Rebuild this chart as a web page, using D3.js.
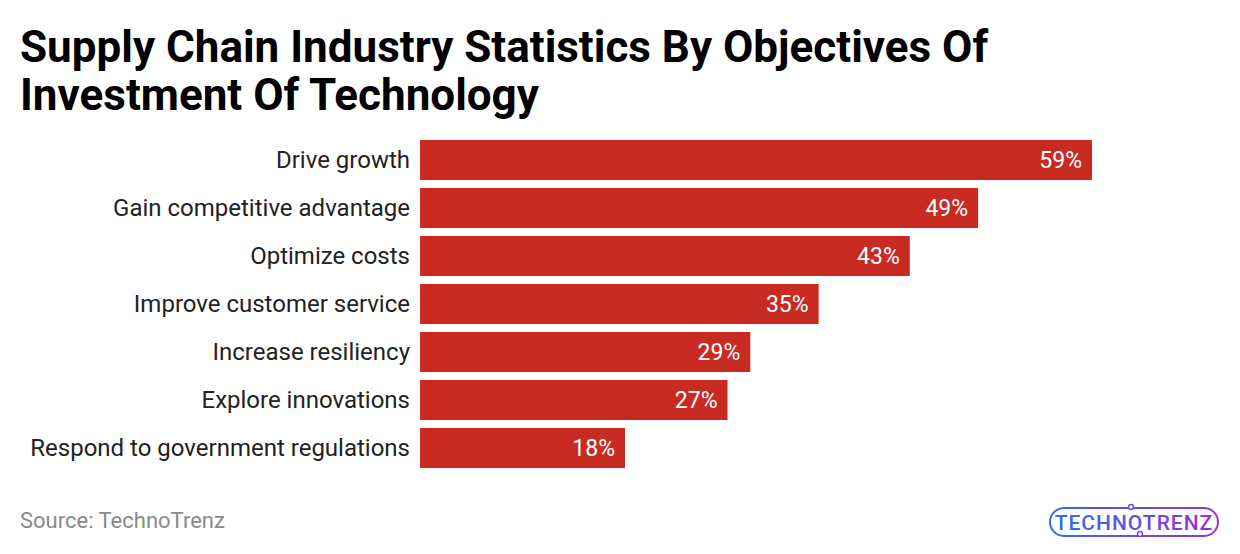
<!DOCTYPE html>
<html><head><meta charset="utf-8">
<script src="https://cdn.jsdelivr.net/npm/d3@7"></script>
<style>body{margin:0;background:#fff;}svg{display:block;font-family:Roboto,sans-serif;}</style>
</head><body><svg id="c" width="1240" height="554"></svg>
<script>
const categories = ["Drive growth","Gain competitive advantage","Optimize costs","Improve customer service","Increase resiliency","Explore innovations","Respond to government regulations"];
const values = [59,49,43,35,29,27,18];
const titleLines = ["Supply Chain Industry Statistics By Objectives Of","Investment Of Technology"];
const sourceText = "Source: TechnoTrenz";

const svg = d3.select("#c");
svg.append("rect").attr("width",1240).attr("height",554).attr("fill","#fff");

const title = svg.append("text").attr("x",20).attr("font-weight",700).attr("font-size",44).attr("fill","#000");
titleLines.forEach((t,i)=>title.append("tspan").attr("x",20).attr("y",62+i*48).text(t));

const x = d3.scaleLinear().domain([0,59]).range([420,1092]);
const y = d3.scaleBand().domain(categories).range([136,472]).paddingInner(1/6).paddingOuter(1/12);

svg.append("g").selectAll("rect").data(values).join("rect")
  .attr("x",x(0)).attr("y",(d,i)=>y(categories[i])).attr("width",d=>x(d)-x(0)).attr("height",y.bandwidth()).attr("fill","#c82b22");

svg.append("g").selectAll("text").data(categories).join("text")
  .attr("x",410).attr("y",d=>y(d)+y.bandwidth()/2).attr("dy","0.35em").attr("text-anchor","end")
  .attr("font-size",24).attr("fill","#222").text(d=>d);

svg.append("g").selectAll("text").data(values).join("text")
  .attr("x",d=>x(d)-10).attr("y",(d,i)=>y(categories[i])+y.bandwidth()/2).attr("dy","0.35em").attr("text-anchor","end")
  .attr("font-size",23).attr("fill","#fff").text(d=>d+"%");

svg.append("text").attr("x",20).attr("y",528).attr("font-size",22).attr("fill","#8a8a8a").text(sourceText);

// logo
const defs = svg.append("defs");
const g = defs.append("linearGradient").attr("id","lg").attr("x1","0").attr("x2","1");
g.append("stop").attr("offset","0").attr("stop-color","#2f6cf0");
g.append("stop").attr("offset","1").attr("stop-color","#9b2fd6");
const logo = svg.append("g");
logo.append("rect").attr("x",1050).attr("y",508).attr("width",168).attr("height",28).attr("rx",14).attr("fill","none").attr("stroke","url(#lg)").attr("stroke-width",2);
logo.append("text").attr("x",1134).attr("y",530).attr("text-anchor","middle").attr("font-size",21).attr("font-weight",500).attr("letter-spacing","1px").attr("fill","url(#lg)").text("TECHNOTRENZ");
logo.append("circle").attr("cx",1131).attr("cy",507).attr("r",2.5).attr("fill","#fff").attr("stroke","#6a4fe0").attr("stroke-width",1.5);
logo.append("circle").attr("cx",1140).attr("cy",534).attr("r",2.5).attr("fill","#fff").attr("stroke","#7a45e0").attr("stroke-width",1.5);
</script></body></html>
